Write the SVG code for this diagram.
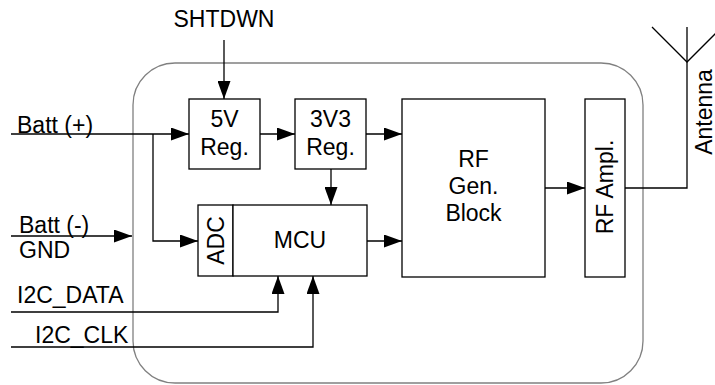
<svg xmlns="http://www.w3.org/2000/svg" width="715" height="385" viewBox="0 0 715 385">
<style>
.b{fill:#fff;stroke:#000;stroke-width:1.3}
.w{fill:none;stroke:#000;stroke-width:1.3}
.t{font-family:"Liberation Sans",Arial,sans-serif;font-size:23px;fill:#000}
.m{text-anchor:middle}
</style>
<defs>
<marker id="a" markerWidth="18" markerHeight="13" refX="18" refY="6.5" orient="auto" markerUnits="userSpaceOnUse">
<path d="M0,0 L18,6.5 L0,13 Z" fill="#000"/>
</marker>
</defs>
<rect width="715" height="385" fill="#fff"/>
<g id="outer"><rect x="133" y="63" width="510" height="320" rx="42" ry="42" fill="none" stroke="#808080" stroke-width="1.3"/></g>
<g id="connectors">
<path class="w" d="M224,40 V99" marker-end="url(#a)"/>
<path class="w" d="M11,134 H189" marker-end="url(#a)"/>
<path class="w" d="M153,134 V241 H198" marker-end="url(#a)"/>
<path class="w" d="M260,134 H295" marker-end="url(#a)"/>
<path class="w" d="M331,169 V205" marker-end="url(#a)"/>
<path class="w" d="M366,134 H402" marker-end="url(#a)"/>
<path class="w" d="M367,241 H402" marker-end="url(#a)"/>
<path class="w" d="M545,188 H585" marker-end="url(#a)"/>
<path class="w" d="M625,188 H687 V27"/>
<path class="w" d="M652,27 L687,62 L722,27"/>
<path class="w" d="M11,236 H132" marker-end="url(#a)"/>
<path class="w" d="M11,312 H278 V276" marker-end="url(#a)"/>
<path class="w" d="M11,347 H313 V276" marker-end="url(#a)"/>
</g>
<g id="reg5v"><rect class="b" x="189" y="99" width="71" height="70"/><text class="t m" x="224.5" y="127">5V</text><text class="t m" x="224.5" y="155">Reg.</text></g>
<g id="reg3v3"><rect class="b" x="295" y="99" width="71" height="70"/><text class="t m" x="330.5" y="127">3V3</text><text class="t m" x="330.5" y="155">Reg.</text></g>
<g id="adc"><rect class="b" x="198" y="205" width="35" height="71"/><text class="t m" transform="translate(223.5,240.5) rotate(-90)">ADC</text></g>
<g id="mcu"><rect class="b" x="233" y="205" width="134" height="71"/><text class="t m" x="300" y="248">MCU</text></g>
<g id="rfgen"><rect class="b" x="402" y="99" width="143" height="178"/><text class="t m" x="473.5" y="167">RF</text><text class="t m" x="473.5" y="194">Gen.</text><text class="t m" x="473.5" y="221">Block</text></g>
<g id="rfampl"><rect class="b" x="585" y="99" width="40" height="178"/><text class="t m" transform="translate(612.5,187) rotate(-90)">RF Ampl.</text></g>
<g id="antenna"><text class="t m" transform="translate(711.5,112) rotate(-90)">Antenna</text></g>
<g id="labels">
<text class="t m" x="224" y="27">SHTDWN</text>
<text class="t" x="17" y="133">Batt (+)</text>
<text class="t" x="19" y="233">Batt (-)</text>
<text class="t" x="19" y="258">GND</text>
<text class="t" x="17" y="303">I2C_DATA</text>
<text class="t" x="35" y="343">I2C_CLK</text>
</g>
</svg>
